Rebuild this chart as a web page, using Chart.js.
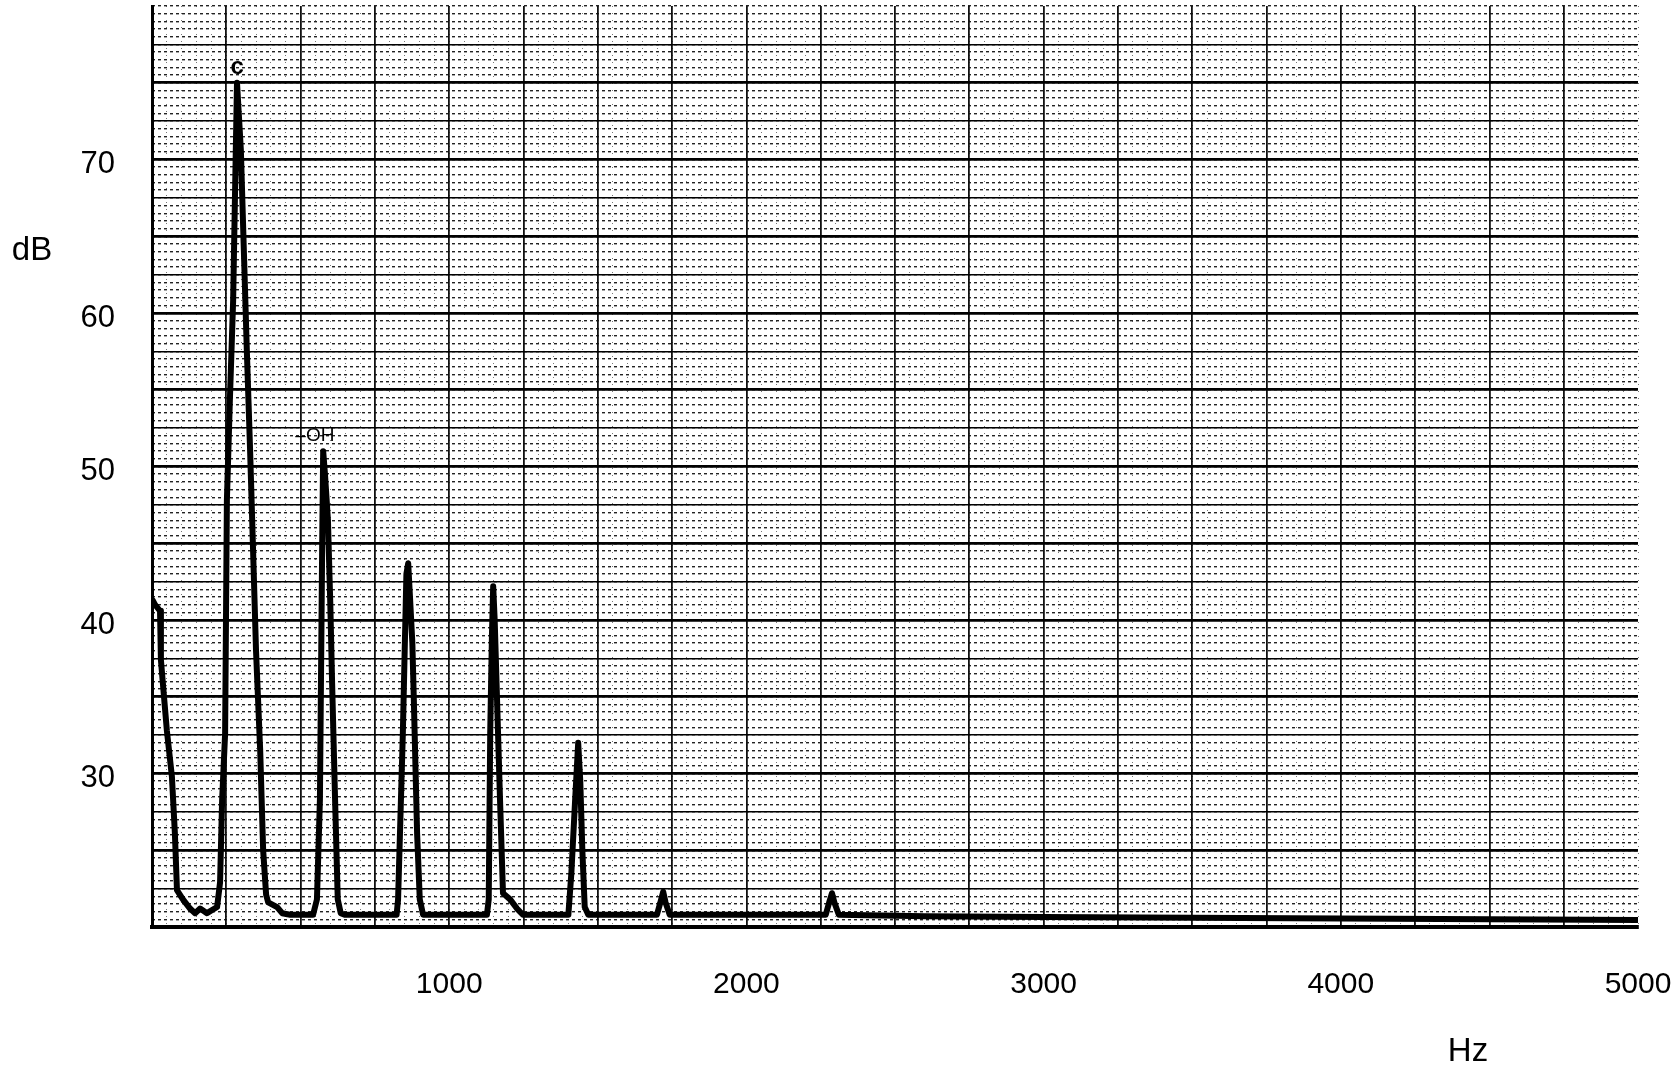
<!DOCTYPE html>
<html>
<head>
<meta charset="utf-8">
<title>Spectrum</title>
<script src="https://cdn.jsdelivr.net/npm/chart.js@4.4.1/dist/chart.umd.min.js"></script>
<style>
  html, body { margin: 0; padding: 0; background: #fff; }
</style>
</head>
<body>
<canvas id="spectrum" width="1671" height="1072"></canvas>
<script>
// trace (frequency in Hz, level in dB)
const freqHz = [
  2, 10, 27, 30, 50, 67, 77, 84, 104, 128, 145, 162, 185, 219, 229, 236, 246, 252, 262, 273, 279,
  286, 299, 309, 319, 330, 340, 350, 364, 374, 384, 391, 421, 438, 465,
  542, 555, 565, 570, 573, 576, 582, 592, 600, 606, 616, 625, 635, 648,
  823, 828, 844, 856, 862, 868, 876, 881, 892, 901, 912,
  1127, 1133, 1138, 1144, 1148, 1153, 1161, 1171, 1181, 1205, 1228, 1248,
  1401, 1411, 1423, 1434, 1441, 1448, 1456, 1468,
  1699, 1712, 1720, 1728, 1742,
  2267, 2280, 2288, 2296, 2311,
  2600, 3000, 3500, 4000, 4500, 5000
];
const levelDb = [
  41.3, 41.0, 40.6, 37.4, 32.8, 29.8, 26.1, 22.4, 21.8, 21.2, 20.9, 21.2, 20.9, 21.3, 22.9, 28.3, 32.6, 47.8, 54.3, 60.8, 67.4,
  75.0, 70.6, 64.1, 57.6, 51.1, 44.6, 38.0, 31.5, 25.0, 22.1, 21.6, 21.3, 20.9, 20.8,
  20.8, 21.8, 28.3, 39.2, 45.7, 51.0, 49.5, 46.5, 41.0, 35.9, 28.3, 21.8, 20.9, 20.8,
  20.8, 21.8, 32.6, 43.0, 43.7, 41.5, 38.5, 34.8, 26.1, 21.8, 20.8,
  20.8, 21.8, 32.6, 39.2, 42.2, 40.0, 34.8, 28.3, 22.2, 21.8, 21.2, 20.8,
  20.8, 23.5, 28.0, 32.0, 29.5, 25.0, 21.3, 20.8,
  20.8, 21.7, 22.3, 21.6, 20.8,
  20.8, 21.7, 22.2, 21.6, 20.8,
  20.7, 20.65, 20.6, 20.55, 20.5, 20.45
];

// labelled ticks
const xLabelValues = [1000, 2000, 3000, 4000, 5000];
const yLabelValues = [30, 40, 50, 60, 70];

// hand notes on the peaks
const peakNoteText = ['c', '–OH'];
const peakNoteHz = [287, 548];
const peakNoteDb = [76.0, 52.0];

const unitX = 'Hz';
const unitY = 'dB';

const fontFamily = "'Liberation Sans', Arial, sans-serif";

// unit labels and peak notes drawn on top
const sheetNotes = {
  id: 'sheetNotes',
  afterDatasetsDraw(chart) {
    const ctx = chart.ctx;
    const x = chart.scales.x;
    const y = chart.scales.y;
    ctx.save();
    ctx.fillStyle = '#000';
    ctx.textAlign = 'center';
    ctx.textBaseline = 'middle';
    ctx.font = '33px ' + fontFamily;
    ctx.fillText(unitY, 32, 251);
    ctx.fillText(unitX, 1468, 1052);
    ctx.font = 'bold 24px ' + fontFamily;
    ctx.fillText(peakNoteText[0], x.getPixelForValue(peakNoteHz[0]), y.getPixelForValue(peakNoteDb[0]));
    ctx.font = '19px ' + fontFamily;
    ctx.fillText(peakNoteText[1], x.getPixelForValue(peakNoteHz[1]), y.getPixelForValue(peakNoteDb[1]));
    ctx.restore();
  }
};

// keep the plot area fixed: drop the room Chart.js keeps for edge labels
const noEdgePadding = s => {
  s.paddingTop = 0; s.paddingBottom = 0; s.paddingLeft = 0; s.paddingRight = 0;
};

const ctx = document.getElementById('spectrum').getContext('2d');
new Chart(ctx, {
  type: 'line',
  data: {
    datasets: [{
      data: freqHz.map((f, i) => ({ x: f, y: levelDb[i] })),
      borderColor: '#000',
      borderWidth: 6,
      borderJoinStyle: 'round',
      borderCapStyle: 'round',
      pointRadius: 0,
      tension: 0,
      fill: false
    }]
  },
  options: {
    responsive: false,
    animation: false,
    devicePixelRatio: 1,
    layout: { padding: { top: 6, right: 33, left: 0, bottom: 0 } },
    plugins: {
      legend: { display: false },
      tooltip: { enabled: false }
    },
    scales: {
      xMinor: {
        type: 'linear', position: 'bottom', min: 0, max: 5000,
        afterFit: s => { s.height = 0; noEdgePadding(s); },
        ticks: { display: false, stepSize: 50 },
        grid: { color: '#777', lineWidth: 1, drawTicks: false },
        border: { display: false, dash: [1, 6] }
      },
      yMinor: {
        type: 'linear', position: 'left', min: 20, max: 80,
        afterFit: s => { s.width = 0; noEdgePadding(s); },
        ticks: { display: false, stepSize: 0.5 },
        grid: { color: '#222', lineWidth: 1.4, drawTicks: false },
        border: { display: false, dash: [3, 3] }
      },
      x: {
        type: 'linear', position: 'bottom', min: 0, max: 5000,
        afterFit: s => { s.height = 145; noEdgePadding(s); },
        ticks: {
          stepSize: 250, autoSkip: false, maxRotation: 0, padding: 40,
          color: '#000', font: { family: fontFamily, size: 30 },
          callback: v => xLabelValues.includes(v) ? String(v) : ''
        },
        grid: {
          color: '#111',
          lineWidth: c => (c.tick && c.tick.value === 5000) ? 0 : 1.8,
          drawTicks: false
        },
        border: { color: '#000', width: 4 }
      },
      y: {
        type: 'linear', position: 'left', min: 20, max: 80,
        afterFit: s => { s.width = 152; noEdgePadding(s); },
        ticks: {
          stepSize: 2.5, autoSkip: false, padding: 37, labelOffset: 5,
          color: '#000', font: { family: fontFamily, size: 31 },
          callback: v => yLabelValues.includes(v) ? String(v) : ''
        },
        grid: {
          color: '#000',
          lineWidth: c => {
            if (!c.tick || c.tick.value === 80) return 0;
            return c.tick.value % 5 === 0 ? 2.8 : 1.6;
          },
          drawTicks: false
        },
        border: { color: '#000', width: 3 }
      }
    }
  },
  plugins: [sheetNotes]
});
</script>
</body>
</html>
